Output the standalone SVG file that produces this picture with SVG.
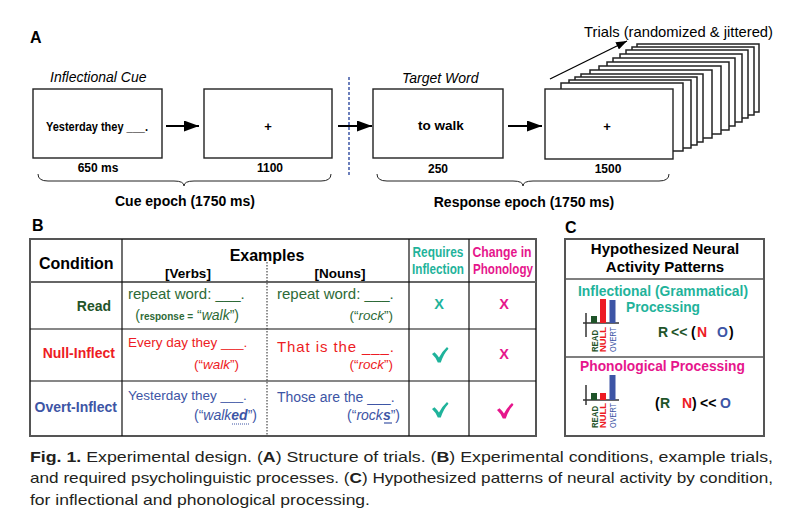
<svg xmlns="http://www.w3.org/2000/svg" width="792" height="526" viewBox="0 0 792 526">
<defs>
<marker id="ah" markerUnits="userSpaceOnUse" markerWidth="15" markerHeight="11" refX="15" refY="5.5" orient="auto"><path d="M0,0 L15,5.5 L0,11 z" fill="#000"/></marker>
<marker id="ahs" markerUnits="userSpaceOnUse" markerWidth="11" markerHeight="8" refX="11" refY="4" orient="auto"><path d="M0,0 L11,4 L0,8 z" fill="#000"/></marker>
<path id="chk" d="M-8,-1 L-5.5,-2.8 Q-3,-0.5 -1,2.5 Q2,-3.5 7,-8 L8.5,-6.3 Q3.5,-1 0.8,7.5 L-2.2,7.5 Q-4.5,2 -8,-1 Z"/>
</defs>
<style>
text{font-family:"Liberation Sans",Arial,Helvetica,sans-serif}
.b{font-weight:bold}
.i{font-style:italic}
.box{fill:#fff;stroke:#222;stroke-width:1.4}
.card{fill:#fff;stroke:#222;stroke-width:1.5}
.conn{stroke:#000;fill:none}
.brace{stroke:#222;stroke-width:1;fill:none}
.grid{stroke:#111;stroke-width:1.2}
.frame{fill:none;stroke:#555;stroke-width:2}
.green{fill:#2d6a37}
.dgreen{fill:#1f5429}
.red{fill:#ed1c24}
.blue{fill:#3d55a5}
.teal{fill:#1fb39b}
.mag{fill:#e6168c}
.cap{font-size:15px;fill:#231f20}
</style>
<rect width="792" height="526" fill="#fff"/>

<!-- Panel A -->
<text x="30" y="43" class="b" font-size="16">A</text>
<text x="50" y="82" class="i" font-size="14">Inflectional Cue</text>
<text x="402" y="83" class="i" font-size="14">Target Word</text>
<text x="584" y="37" font-size="14.5" textLength="189" lengthAdjust="spacingAndGlyphs">Trials (randomized &amp; jittered)</text>

<g id="cue-box">
<rect class="box" x="33" y="89" width="129" height="69"/>
<text x="46" y="131" class="b" font-size="13.5" textLength="102" lengthAdjust="spacingAndGlyphs">Yesterday they ___.</text>
<text x="98" y="172" text-anchor="middle" class="b" font-size="12">650 ms</text>
</g>
<g id="fix-box-1">
<rect class="box" x="204" y="89" width="128" height="69"/>
<text x="268" y="131" text-anchor="middle" class="b" font-size="13">+</text>
<text x="270" y="172" text-anchor="middle" class="b" font-size="12">1100</text>
</g>
<g id="target-box">
<rect class="box" x="373" y="89" width="130" height="69"/>
<text x="441" y="130" text-anchor="middle" class="b" font-size="13.5">to walk</text>
<text x="438" y="173" text-anchor="middle" class="b" font-size="12">250</text>
</g>
<g id="trial-stack">
<rect class="card" x="637" y="44" width="122" height="68"/>
<rect class="card" x="632" y="47" width="122" height="68"/>
<rect class="card" x="626" y="50" width="122" height="68"/>
<rect class="card" x="620" y="54" width="122" height="68"/>
<rect class="card" x="613" y="58" width="122" height="68"/>
<rect class="card" x="607" y="62" width="122" height="68"/>
<rect class="card" x="599" y="66" width="122" height="68"/>
<rect class="card" x="590" y="70" width="122" height="68"/>
<rect class="card" x="581" y="74" width="122" height="68"/>
<rect class="card" x="575" y="77" width="122" height="68"/>
<rect class="card" x="569" y="80" width="122" height="68"/>
<rect class="card" x="561" y="83" width="122" height="68"/>
<rect class="box" x="545" y="89" width="128" height="70"/>
<text x="607" y="131" text-anchor="middle" class="b" font-size="13">+</text>
<text x="608" y="173" text-anchor="middle" class="b" font-size="12">1500</text>
</g>

<g id="connectors">
<line class="conn" x1="166" y1="126" x2="199" y2="126" stroke-width="2" marker-end="url(#ah)"/>
<line class="conn" x1="338" y1="126" x2="372" y2="126" stroke-width="2" marker-end="url(#ah)"/>
<line class="conn" x1="508" y1="126" x2="542" y2="126" stroke-width="2" marker-end="url(#ah)"/>
<line class="conn" x1="550" y1="79" x2="627" y2="41" stroke-width="1.3" marker-end="url(#ahs)"/>
<line x1="349" y1="77" x2="349" y2="177" stroke="#3d55a5" stroke-width="1.5" stroke-dasharray="3,2"/>
</g>

<g id="epochs">
<path class="brace" d="M38,174 Q38,181 48,181 L174,181 Q184,181 184,186 Q184,181 194,181 L321,181 Q331,181 331,174"/>
<text x="185" y="206" text-anchor="middle" class="b" font-size="14">Cue epoch (1750 ms)</text>
<path class="brace" d="M377,174 Q377,181 387,181 L513,181 Q523,181 523,186 Q523,181 533,181 L659,181 Q669,181 669,174"/>
<text x="524" y="207" text-anchor="middle" class="b" font-size="14">Response epoch (1750 ms)</text>
</g>

<!-- Panel B -->
<g id="table-b">
<text x="32" y="231" class="b" font-size="16">B</text>
<rect class="frame" x="30" y="239" width="506" height="197"/>
<line x1="30" y1="282" x2="536" y2="282" stroke="#666" stroke-width="2"/>
<line class="grid" x1="30" y1="329" x2="536" y2="329"/>
<line class="grid" x1="30" y1="381" x2="536" y2="381"/>
<line class="grid" x1="122" y1="239" x2="122" y2="436"/>
<line class="grid" x1="409" y1="239" x2="409" y2="436"/>
<line class="grid" x1="469" y1="239" x2="469" y2="436"/>
<line x1="267" y1="262" x2="267" y2="436" stroke="#222" stroke-width="1" stroke-dasharray="1.5,1.5"/>

<text x="39" y="269" class="b" font-size="16">Condition</text>
<text x="267" y="261" text-anchor="middle" class="b" font-size="16">Examples</text>
<text x="188" y="278" text-anchor="middle" class="b" font-size="13.5">[Verbs]</text>
<text x="340" y="278" text-anchor="middle" class="b" font-size="13.5">[Nouns]</text>
<text x="438" y="257" text-anchor="middle" class="b teal" font-size="14.5" textLength="51" lengthAdjust="spacingAndGlyphs">Requires</text>
<text x="438" y="274" text-anchor="middle" class="b teal" font-size="14.5" textLength="52" lengthAdjust="spacingAndGlyphs">Inflection</text>
<text x="502" y="257" text-anchor="middle" class="b mag" font-size="14.5" textLength="59" lengthAdjust="spacingAndGlyphs">Change in</text>
<text x="503" y="274" text-anchor="middle" class="b mag" font-size="14.5" textLength="60" lengthAdjust="spacingAndGlyphs">Phonology</text>

<text x="111" y="311" text-anchor="end" class="b dgreen" font-size="14">Read</text>
<text x="128" y="299" class="green" font-size="15">repeat word: ___.</text>
<text x="239" y="320" text-anchor="end" class="green" font-size="14">(<tspan class="b" font-size="10">response =</tspan> “<tspan class="i">walk</tspan>”)</text>
<text x="277" y="299" class="green" font-size="15">repeat word: ___.</text>
<text x="393" y="320" text-anchor="end" class="green" font-size="13.5">(“<tspan class="i">rock</tspan>”)</text>
<text x="439" y="308.5" text-anchor="middle" class="b teal" font-size="14.5">X</text>
<text x="504" y="308.5" text-anchor="middle" class="b mag" font-size="14.5">X</text>

<text x="115" y="358" text-anchor="end" class="b red" font-size="14">Null-Inflect</text>
<text x="128" y="347" class="red" font-size="13.5">Every day they ___.</text>
<text x="239" y="369" text-anchor="end" class="red" font-size="13.5">(“<tspan class="i">walk</tspan>”)</text>
<text x="277" y="352" class="red" font-size="15" letter-spacing="0.9">That is the ___.</text>
<text x="393" y="369" text-anchor="end" class="red" font-size="13.5">(“<tspan class="i">rock</tspan>”)</text>
<use href="#chk" x="440" y="355" class="teal"/>
<text x="504" y="358.5" text-anchor="middle" class="b mag" font-size="14.5">X</text>

<text x="117" y="412" text-anchor="end" class="b blue" font-size="14">Overt-Inflect</text>
<text x="128" y="400" class="blue" font-size="13.5">Yesterday they ___.</text>
<text x="257" y="420" text-anchor="end" class="blue" font-size="14">(“<tspan class="i">walk</tspan><tspan class="b i">ed</tspan>”)</text>
<line x1="232" y1="424" x2="249" y2="424" stroke="#3d55a5" stroke-width="1" stroke-dasharray="1,1"/>
<text x="277" y="402" class="blue" font-size="14">Those are the ___.</text>
<text x="400" y="420" text-anchor="end" class="blue" font-size="14">(“<tspan class="i">rock</tspan><tspan class="b i">s</tspan>”)</text>
<line x1="384" y1="423" x2="392" y2="423" stroke="#3d55a5" stroke-width="1.2"/>
<use href="#chk" x="440" y="410" class="teal"/>
<use href="#chk" x="505" y="411" class="mag"/>
</g>

<!-- Panel C -->
<g id="panel-c">
<text x="565" y="233" class="b" font-size="16">C</text>
<rect class="frame" x="565" y="239" width="199" height="197"/>
<line x1="565" y1="279" x2="764" y2="279" stroke="#555" stroke-width="1.5"/>
<line x1="565" y1="357" x2="764" y2="357" stroke="#555" stroke-width="1.5"/>
<text x="665" y="254" text-anchor="middle" class="b" font-size="15">Hypothesized Neural</text>
<text x="665" y="272" text-anchor="middle" class="b" font-size="15">Activity Patterns</text>
</g>

<g id="inflectional">
<text x="578" y="296" class="b teal" font-size="14" textLength="170" lengthAdjust="spacingAndGlyphs">Inflectional (Grammatical)</text>
<text x="663" y="312" text-anchor="middle" class="b teal" font-size="14" textLength="74" lengthAdjust="spacingAndGlyphs">Processing</text>
<line x1="586" y1="313" x2="586" y2="337" stroke="#333" stroke-width="1.5"/>
<line x1="583" y1="323" x2="619" y2="323" stroke="#333" stroke-width="1.5"/>
<rect x="591" y="316" width="6" height="7" fill="#1f5429"/>
<rect x="600" y="299" width="6" height="24" fill="#ed1c24"/>
<rect x="609.5" y="300" width="6" height="23" fill="#3d55a5"/>
<text transform="translate(597.5,352) rotate(-90)" class="b dgreen" font-size="8.5" textLength="22" lengthAdjust="spacingAndGlyphs">READ</text>
<text transform="translate(606,352) rotate(-90)" class="b red" font-size="8.5" textLength="25" lengthAdjust="spacingAndGlyphs">NULL</text>
<text transform="translate(615.5,352) rotate(-90)" class="blue" font-size="8.5" textLength="25" lengthAdjust="spacingAndGlyphs">OVERT</text>
<text y="337" class="b" font-size="14"><tspan x="658" class="dgreen">R</tspan><tspan x="671" class="dgreen">&lt;&lt;</tspan><tspan x="691">(</tspan><tspan x="697" class="red">N</tspan><tspan x="717" class="blue">O</tspan><tspan x="729">)</tspan></text>
</g>

<g id="phonological">
<text x="580" y="371" class="b mag" font-size="14" textLength="165" lengthAdjust="spacingAndGlyphs">Phonological Processing</text>
<line x1="586" y1="385" x2="586" y2="405" stroke="#333" stroke-width="1.5"/>
<line x1="583" y1="400" x2="619" y2="400" stroke="#333" stroke-width="1.5"/>
<rect x="591" y="393" width="6" height="7" fill="#1f5429"/>
<rect x="600" y="393" width="6" height="7" fill="#ed1c24"/>
<rect x="609.5" y="375" width="6" height="25" fill="#3d55a5"/>
<text transform="translate(597.5,428) rotate(-90)" class="b dgreen" font-size="8.5" textLength="22" lengthAdjust="spacingAndGlyphs">READ</text>
<text transform="translate(606,428) rotate(-90)" class="b red" font-size="8.5" textLength="25" lengthAdjust="spacingAndGlyphs">NULL</text>
<text transform="translate(615.5,428) rotate(-90)" class="blue" font-size="8.5" textLength="25" lengthAdjust="spacingAndGlyphs">OVERT</text>
<text y="408" class="b" font-size="14"><tspan x="655">(</tspan><tspan x="660" class="dgreen">R</tspan><tspan x="682" class="red">N</tspan><tspan x="692">)</tspan><tspan x="700">&lt;&lt;</tspan><tspan x="720" class="blue">O</tspan></text>
</g>

<!-- Caption -->
<g id="caption">
<text x="30" y="462" class="cap" textLength="743" lengthAdjust="spacingAndGlyphs"><tspan class="b">Fig. 1.</tspan> Experimental design. (<tspan class="b">A</tspan>) Structure of trials. (<tspan class="b">B</tspan>) Experimental conditions, example trials,</text>
<text x="30" y="483" class="cap" textLength="743" lengthAdjust="spacingAndGlyphs">and required psycholinguistic processes. (<tspan class="b">C</tspan>) Hypothesized patterns of neural activity by condition,</text>
<text x="30" y="505" class="cap" textLength="340" lengthAdjust="spacingAndGlyphs">for inflectional and phonological processing.</text>
</g>
</svg>
